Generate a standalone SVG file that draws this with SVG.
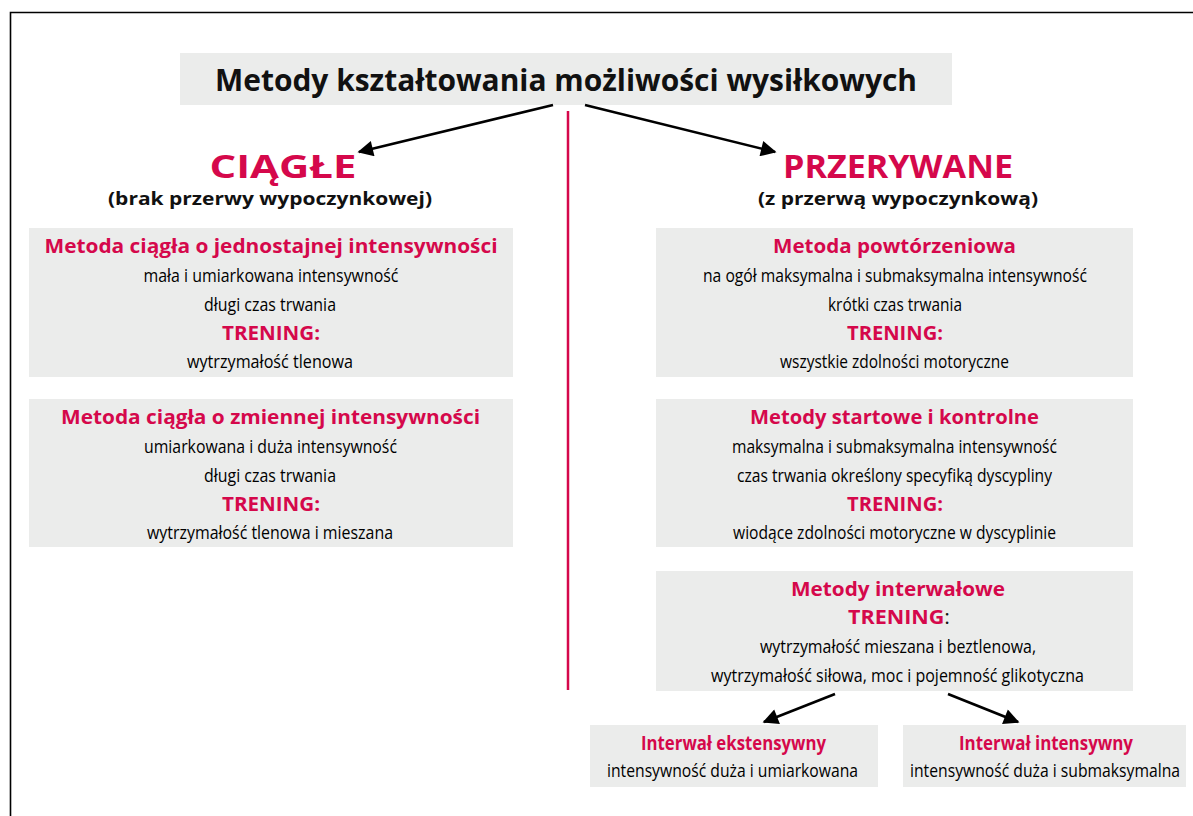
<svg xmlns="http://www.w3.org/2000/svg" width="1193" height="816" viewBox="0 0 1193 816">
<defs>
<style>
.box{fill:#ebeceb}
.t{font-family:"Open Sans","Noto Sans",sans-serif;text-anchor:middle}
.red{fill:#d5084b;font-weight:bold}
.body{font-family:"Liberation Sans Narrow","Open Sans","Noto Sans",sans-serif;font-size:19px;fill:#000;text-anchor:middle}
.h{font-size:20px}
.conn{stroke:#000;stroke-width:2.6;fill:none}
</style>
<marker id="ah" viewBox="0 0 10 10" refX="9" refY="5" markerWidth="7" markerHeight="6" markerUnits="strokeWidth" orient="auto">
<path d="M0,0 L10,5 L0,10 z" fill="#000"/>
</marker>
</defs>
<rect width="1193" height="816" fill="#fff"/>
<path d="M10.5,816 V12.5 H1193" stroke="#000" stroke-width="1.6" fill="none"/>

<g id="title">
<rect class="box" x="180" y="53" width="772" height="52"/>
<text class="t" x="566" y="91" font-size="31" font-weight="bold" fill="#111" textLength="702" lengthAdjust="spacingAndGlyphs">Metody kształtowania możliwości wysiłkowych</text>
</g>

<g id="connectors">
<line class="conn" x1="553" y1="105" x2="359" y2="152" marker-end="url(#ah)"/>
<line class="conn" x1="585" y1="105" x2="775" y2="152" marker-end="url(#ah)"/>
<line x1="568" y1="111" x2="568" y2="690" stroke="#d5084b" stroke-width="2.5"/>
<line class="conn" x1="835" y1="694" x2="764" y2="722" marker-end="url(#ah)"/>
<line class="conn" x1="948" y1="694" x2="1018" y2="722" marker-end="url(#ah)"/>
</g>

<g id="ciagle">
<text class="t red" x="283" y="178" font-size="33" textLength="147" lengthAdjust="spacingAndGlyphs">CIĄGŁE</text>
<text class="t" x="270" y="205" font-size="18" font-weight="bold" fill="#111" textLength="324" lengthAdjust="spacingAndGlyphs">(brak przerwy wypoczynkowej)</text>
</g>

<g id="przerywane">
<text class="t red" x="898" y="178" font-size="33" textLength="230" lengthAdjust="spacingAndGlyphs">PRZERYWANE</text>
<text class="t" x="898" y="205" font-size="18" font-weight="bold" fill="#111" textLength="280" lengthAdjust="spacingAndGlyphs">(z przerwą wypoczynkową)</text>
</g>

<g id="ciagla-jednostajna">
<rect class="box" x="29" y="228" width="484" height="149"/>
<text class="t red h" x="271" y="253" textLength="453" lengthAdjust="spacingAndGlyphs">Metoda ciągła o jednostajnej intensywności</text>
<text class="body" x="271" y="282" textLength="255" lengthAdjust="spacingAndGlyphs">mała i umiarkowana intensywność</text>
<text class="body" x="270" y="311" textLength="132" lengthAdjust="spacingAndGlyphs">długi czas trwania</text>
<text class="t red h" x="271" y="340" textLength="98" lengthAdjust="spacingAndGlyphs">TRENING:</text>
<text class="body" x="270" y="368" textLength="166" lengthAdjust="spacingAndGlyphs">wytrzymałość tlenowa</text>
</g>

<g id="ciagla-zmienna">
<rect class="box" x="29" y="399" width="484" height="148"/>
<text class="t red h" x="270.5" y="424" textLength="419" lengthAdjust="spacingAndGlyphs">Metoda ciągła o zmiennej intensywności</text>
<text class="body" x="270.5" y="453" textLength="253" lengthAdjust="spacingAndGlyphs">umiarkowana i duża intensywność</text>
<text class="body" x="270" y="482" textLength="132" lengthAdjust="spacingAndGlyphs">długi czas trwania</text>
<text class="t red h" x="271" y="511" textLength="98" lengthAdjust="spacingAndGlyphs">TRENING:</text>
<text class="body" x="270" y="539" textLength="246" lengthAdjust="spacingAndGlyphs">wytrzymałość tlenowa i mieszana</text>
</g>

<g id="powtorzeniowa">
<rect class="box" x="656" y="228" width="477" height="149"/>
<text class="t red h" x="894.5" y="253" textLength="243" lengthAdjust="spacingAndGlyphs">Metoda powtórzeniowa</text>
<text class="body" x="895" y="282" textLength="384" lengthAdjust="spacingAndGlyphs">na ogół maksymalna i submaksymalna intensywność</text>
<text class="body" x="895" y="311" textLength="134" lengthAdjust="spacingAndGlyphs">krótki czas trwania</text>
<text class="t red h" x="895" y="340" textLength="96" lengthAdjust="spacingAndGlyphs">TRENING:</text>
<text class="body" x="894.5" y="368" textLength="229" lengthAdjust="spacingAndGlyphs">wszystkie zdolności motoryczne</text>
</g>

<g id="startowe">
<rect class="box" x="656" y="399" width="477" height="148"/>
<text class="t red h" x="894.5" y="424" textLength="289" lengthAdjust="spacingAndGlyphs">Metody startowe i kontrolne</text>
<text class="body" x="894.5" y="453" textLength="325" lengthAdjust="spacingAndGlyphs">maksymalna i submaksymalna intensywność</text>
<text class="body" x="894.5" y="482" textLength="315" lengthAdjust="spacingAndGlyphs">czas trwania określony specyfiką dyscypliny</text>
<text class="t red h" x="895" y="511" textLength="96" lengthAdjust="spacingAndGlyphs">TRENING:</text>
<text class="body" x="894.5" y="539" textLength="323" lengthAdjust="spacingAndGlyphs">wiodące zdolności motoryczne w dyscyplinie</text>
</g>

<g id="interwalowe">
<rect class="box" x="656" y="571" width="477" height="120"/>
<text class="t red h" x="898" y="596" textLength="214" lengthAdjust="spacingAndGlyphs">Metody interwałowe</text>
<text class="t h" x="899" y="624" textLength="102" lengthAdjust="spacingAndGlyphs"><tspan class="red">TRENING</tspan><tspan fill="#111">:</tspan></text>
<text class="body" x="898" y="653" textLength="276" lengthAdjust="spacingAndGlyphs">wytrzymałość mieszana i beztlenowa,</text>
<text class="body" x="897.5" y="682" textLength="373" lengthAdjust="spacingAndGlyphs">wytrzymałość siłowa, moc i pojemność glikotyczna</text>
</g>

<g id="ekstensywny">
<rect class="box" x="590" y="725" width="288" height="62"/>
<text class="t red" x="733.5" y="750" font-size="19" textLength="185" lengthAdjust="spacingAndGlyphs">Interwał ekstensywny</text>
<text class="body" x="732.5" y="777" textLength="251" lengthAdjust="spacingAndGlyphs">intensywność duża i umiarkowana</text>
</g>

<g id="intensywny">
<rect class="box" x="903" y="725" width="283" height="62"/>
<text class="t red" x="1046" y="750" font-size="19" textLength="174" lengthAdjust="spacingAndGlyphs">Interwał intensywny</text>
<text class="body" x="1045" y="777" textLength="270" lengthAdjust="spacingAndGlyphs">intensywność duża i submaksymalna</text>
</g>
</svg>
